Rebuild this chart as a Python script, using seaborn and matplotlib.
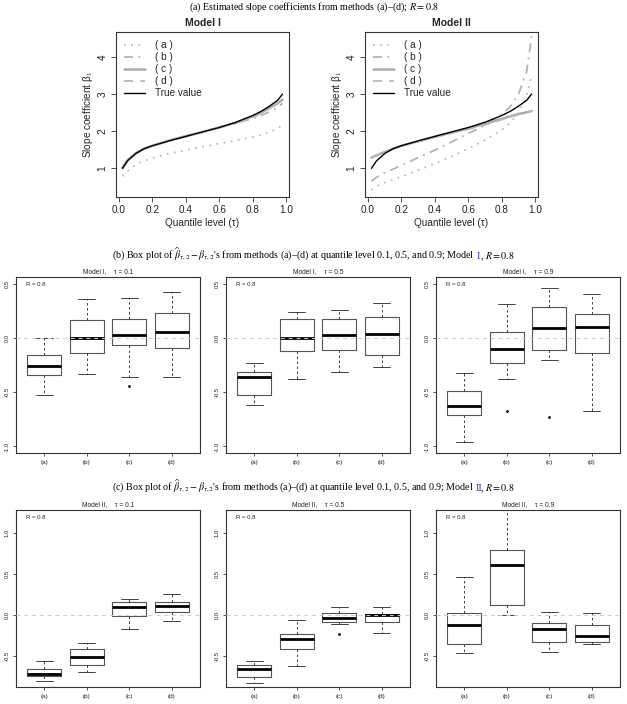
import numpy as np
import pandas as pd
import matplotlib
matplotlib.use("Agg")
import matplotlib.pyplot as plt
import seaborn as sns

# ---- (a) estimated slope coefficient curves ----
tau = [0.02, 0.05, 0.1, 0.15, 0.2, 0.3, 0.4, 0.5, 0.6, 0.7, 0.8, 0.85, 0.9, 0.95, 0.98]
true_beta = [1.00, 1.20, 1.40, 1.53, 1.61, 1.74, 1.86, 1.98, 2.10, 2.24, 2.42, 2.53, 2.67, 2.83, 3.00]

m1_a = [0.79, 0.92, 1.10, 1.20, 1.28, 1.40, 1.49, 1.58, 1.67, 1.75, 1.84, 1.90, 1.98, 2.07, 2.17]
m1_b = [0.98, 1.19, 1.39, 1.52, 1.60, 1.74, 1.86, 1.98, 2.10, 2.22, 2.34, 2.42, 2.52, 2.64, 2.75]
m1_c = [1.02, 1.22, 1.41, 1.53, 1.61, 1.75, 1.87, 1.98, 2.10, 2.23, 2.40, 2.50, 2.62, 2.75, 2.85]
m1_d = [1.00, 1.21, 1.40, 1.52, 1.61, 1.74, 1.86, 1.98, 2.10, 2.22, 2.36, 2.48, 2.62, 2.76, 2.86]

m2_a = [0.42, 0.52, 0.62, 0.70, 0.78, 0.95, 1.13, 1.32, 1.53, 1.76, 2.03, 2.22, 2.48, 2.95, 3.50]
m2_b = [0.66, 0.76, 0.88, 0.98, 1.08, 1.29, 1.49, 1.71, 1.94, 2.16, 2.45, 2.65, 2.98, 3.60, 4.55]
m2_c = [1.29, 1.35, 1.44, 1.53, 1.61, 1.73, 1.85, 1.96, 2.07, 2.20, 2.33, 2.40, 2.46, 2.51, 2.54]
m2_d = [1.30, 1.35, 1.44, 1.52, 1.60, 1.72, 1.84, 1.95, 2.05, 2.17, 2.31, 2.38, 2.45, 2.51, 2.55]

curve_labels = ["( a )", "( b )", "( c )", "( d )", "True value"]

# ---- (b)/(c) box plot summaries: (lower whisker, Q1, median, Q3, upper whisker) ----
methods = ["(a)", "(b)", "(c)", "(d)"]

m1_tau01 = [(-0.53, -0.345, -0.26, -0.16, 0.00),
            (-0.335, -0.135, 0.00, 0.165, 0.355),
            (-0.365, -0.067, 0.03, 0.17, 0.37),
            (-0.365, -0.097, 0.05, 0.233, 0.424)]
m1_tau01_out = [[], [], [-0.44], []]

m1_tau05 = [(-0.62, -0.53, -0.36, -0.31, -0.23),
            (-0.376, -0.12, 0.00, 0.17, 0.24),
            (-0.318, -0.115, 0.027, 0.173, 0.26),
            (-0.267, -0.155, 0.036, 0.188, 0.318)]
m1_tau05_out = [[], [], [], []]

m1_tau09 = [(-0.96, -0.71, -0.63, -0.49, -0.32),
            (-0.38, -0.23, -0.103, 0.055, 0.315),
            (-0.203, -0.112, 0.088, 0.28, 0.46),
            (-0.67, -0.139, 0.103, 0.224, 0.406)]
m1_tau09_out = [[], [-0.676], [-0.727], []]

m2_tau01 = [(-0.81, -0.744, -0.72, -0.663, -0.565),
            (-0.70, -0.617, -0.515, -0.42, -0.348),
            (-0.176, -0.012, 0.094, 0.155, 0.19),
            (-0.078, 0.037, 0.106, 0.155, 0.254)]
m2_tau01_out = [[], [], [], []]

m2_tau05 = [(-0.828, -0.754, -0.656, -0.615, -0.557),
            (-0.627, -0.418, -0.30, -0.234, -0.061),
            (-0.115, -0.086, -0.037, 0.025, 0.098),
            (-0.217, -0.086, -0.004, 0.016, 0.098)]
m2_tau05_out = [[], [], [-0.23], []]

m2_tau09 = [(-0.471, -0.352, -0.127, 0.025, 0.467),
            (0.00, 0.123, 0.611, 0.795, 1.40),
            (-0.447, -0.328, -0.172, -0.094, 0.033),
            (-0.352, -0.328, -0.262, -0.123, 0.025)]
m2_tau09_out = [[], [], [], []]

# ---- style ----
sns.set_theme(style="ticks")
plt.rcParams["font.family"] = ["Liberation Sans", "DejaVu Sans"]
plt.rcParams["mathtext.fontset"] = "stix"
plt.rcParams["axes.unicode_minus"] = False

FRAME = "#333333"
SERIF = ["Liberation Serif", "DejaVu Serif"]
W, H = 627, 704

fig = plt.figure(figsize=(W / 100, H / 100), dpi=100)


def px_axes(x0, y0, x1, y1):
    """Add axes given pixel box (left, top, right, bottom)."""
    return fig.add_axes([x0 / W, 1 - y1 / H, (x1 - x0) / W, (y1 - y0) / H])


def style_frame(ax, tick_len, label_size, pad):
    for sp in ax.spines.values():
        sp.set_color(FRAME)
        sp.set_linewidth(0.8)
        sp.set_visible(True)
    ax.tick_params(direction="out", length=tick_len, width=0.6, color=FRAME,
                   labelsize=label_size, pad=pad, labelcolor="#222222")
    ax.tick_params(axis="y", labelrotation=90)
    for lab in ax.get_yticklabels():
        lab.set_va("center")


# ---- top row: slope curves ----
curve_styles = [
    dict(color="#bdbdbd", lw=1.3, linestyle=(0, (1, 3))),
    dict(color="#b3b3b3", lw=1.3, linestyle=(0, (5, 3, 1, 3))),
    dict(color="#ababab", lw=1.8, linestyle="-"),
    dict(color="#b8b8b8", lw=1.3, linestyle=(0, (5, 4))),
    dict(color="black", lw=1.0, linestyle="-"),
]

top_panels = [
    ("Model I", (116, 32, 289, 197), [m1_a, m1_b, m1_c, m1_d, true_beta]),
    ("Model II", (365, 32, 538, 197), [m2_a, m2_b, m2_c, m2_d, true_beta]),
]

for title, box, series in top_panels:
    ax = px_axes(*box)
    for vals, lab, st in zip(series, curve_labels, curve_styles):
        sns.lineplot(x=tau, y=vals, ax=ax, label=lab, **st)
    ax.set_xlim(-0.0184, 1.0184)
    ax.set_ylim(0.23, 4.67)
    ax.set_xticks([0.0, 0.2, 0.4, 0.6, 0.8, 1.0])
    ax.set_xticklabels(["0.0", "0.2", "0.4", "0.6", "0.8", "1.0"])
    ax.set_yticks([1, 2, 3, 4])
    style_frame(ax, 3.5, 7.2, 2.5)
    ax.set_title(title, fontsize=7.5, fontweight="bold", pad=4)
    ax.set_xlabel("Quantile level (τ)", fontsize=7.2, labelpad=2)
    ax.set_ylabel("Slope coefficient β$_1$", fontsize=7.2, labelpad=2)
    ax.legend(loc="upper left", bbox_to_anchor=(0.0, 1.0), frameon=False,
              fontsize=7.2, handlelength=2.1, handletextpad=1.0,
              labelspacing=0.2, borderaxespad=0.4)


# ---- box plot rows ----
def draw_box(ax, stats5, outliers, ylim, yticks, title):
    stats = []
    for (lo, q1, med, q3, hi), fl in zip(stats5, outliers):
        stats.append(dict(whislo=lo, q1=q1, med=med, q3=q3, whishi=hi,
                          fliers=np.array(fl)))
    ax.bxp(stats, positions=[1, 2, 3, 4], widths=0.8, capwidths=0.4,
           showfliers=True, manage_ticks=False,
           boxprops=dict(color="#555555", lw=0.8),
           whiskerprops=dict(color="#222222", lw=0.6, linestyle=(0, (3, 3))),
           capprops=dict(color="#222222", lw=0.6),
           medianprops=dict(color="black", lw=2.0, solid_capstyle="butt"),
           flierprops=dict(marker="o", markersize=1.0, markerfacecolor="black",
                           markeredgecolor="black"))
    ax.axhline(0, color="#cccccc", lw=0.7, linestyle=(0, (4, 4)), zorder=5)
    ax.set_xlim(0.34, 4.66)
    ax.set_ylim(*ylim)
    ax.set_xticks([1, 2, 3, 4])
    ax.set_xticklabels(methods)
    ax.set_yticks(yticks)
    ax.set_yticklabels([f"{v:.1f}" for v in yticks])
    style_frame(ax, 2.2, 4.2, 2.5)
    ax.tick_params(axis="x", labelsize=4.6)
    ax.set_title(title, fontsize=4.8, pad=2.5)
    ax.text(0.055, 0.96, "R = 0.8", transform=ax.transAxes, fontsize=4.3,
            va="center", ha="left")


col_x = [(16, 200), (226, 410), (436, 620)]
row_b = [(m1_tau01, m1_tau01_out, "Model I,    τ = 0.1"),
         (m1_tau05, m1_tau05_out, "Model I,    τ = 0.5"),
         (m1_tau09, m1_tau09_out, "Model I,    τ = 0.9")]
row_c = [(m2_tau01, m2_tau01_out, "Model II,    τ = 0.1"),
         (m2_tau05, m2_tau05_out, "Model II,    τ = 0.5"),
         (m2_tau09, m2_tau09_out, "Model II,    τ = 0.9")]

for (x0, x1), (st, out, ttl) in zip(col_x, row_b):
    ax = px_axes(x0, 277, x1, 453)
    draw_box(ax, st, out, (-1.06, 0.56), [-1.0, -0.5, 0.0, 0.5], ttl)

for (x0, x1), (st, out, ttl) in zip(col_x, row_c):
    ax = px_axes(x0, 510, x1, 687)
    draw_box(ax, st, out, (-0.88, 1.28), [-0.5, 0.0, 0.5, 1.0], ttl)


# ---- section captions (serif, with coloured model number) ----
def caption(base_px, parts, size=7.2):
    # parts: (text, colour, extra gap in px before the piece)
    renderer = fig.canvas.get_renderer()
    texts = [fig.text(0, 1 - base_px / H, s, color=c, fontsize=size,
                      family=SERIF, ha="left", va="baseline") for s, c, _ in parts]
    widths = [t.get_window_extent(renderer).width + g for t, (_, _, g) in zip(texts, parts)]
    x = (W - sum(widths)) / 2
    for t, w, (_, _, g) in zip(texts, widths, parts):
        t.set_x((x + g) / W)
        x += w


BLUE = "#2a2ab0"
caption(10, [("(a) Estimated slope coefficients from methods (a)–(d); $R = 0.8$", "black", 0)])
caption(259, [(r"(b) Box plot of $\widehat{\beta}_{\tau,2} - \beta_{\tau,2}$'s from methods "
               "(a)–(d) at quantile level 0.1, 0.5, and 0.9; Model", "black", 0),
              ("I", BLUE, 2.5), (", $R = 0.8$", "black", 0)])
caption(491, [(r"(c) Box plot of $\widehat{\beta}_{\tau,2} - \beta_{\tau,2}$'s from methods "
               "(a)–(d) at quantile level 0.1, 0.5, and 0.9; Model", "black", 0),
              ("II", BLUE, 1.5), (", $R = 0.8$", "black", -1.5)])

fig.savefig("out.png", dpi=100)
